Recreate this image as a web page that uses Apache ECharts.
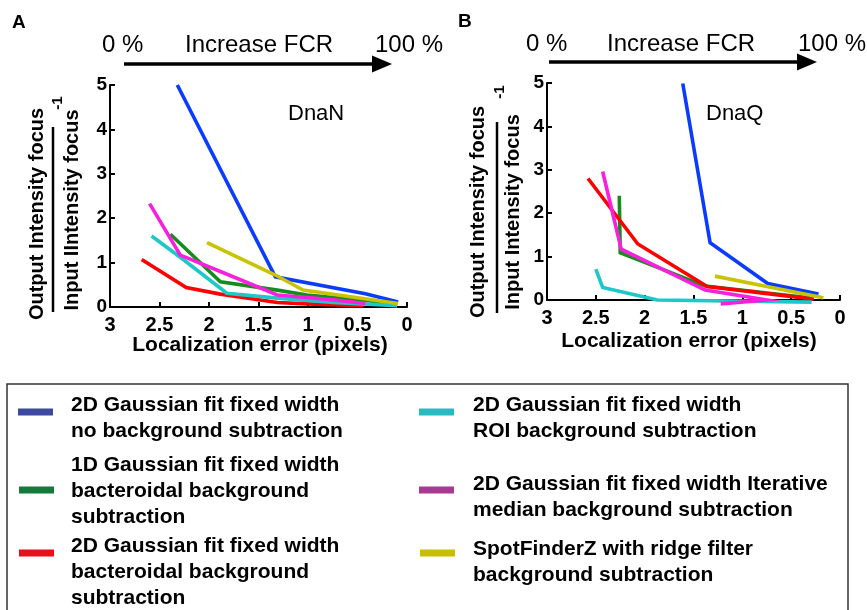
<!DOCTYPE html>
<html><head><meta charset="utf-8">
<script src="https://cdn.jsdelivr.net/npm/echarts@6/dist/echarts.min.js"></script>
<style>html,body{margin:0;padding:0;background:#fff}#c{width:867px;height:610px}</style>
</head><body><div id="c"></div>
<script>
// ---- data (x = localization error in pixels, y = output/input intensity - 1) ----
const xTicks = [3, 2.5, 2, 1.5, 1, 0.5, 0];
const yTicks = [0, 1, 2, 3, 4, 5];
const methodNames = [
  '2D Gaussian fit fixed width no background subtraction',
  '1D Gaussian fit fixed width bacteroidal background subtraction',
  '2D Gaussian fit fixed width bacteroidal background subtraction',
  '2D Gaussian fit fixed width ROI background subtraction',
  '2D Gaussian fit fixed width Iterative median background subtraction',
  'SpotFinderZ with ridge filter background subtraction'
];
// Panel A: DnaN
const dnaN_2dNoBg   = [[2.32,5.0],[1.33,0.68],[0.42,0.30],[0.09,0.11]];
const dnaN_1dBact   = [[2.39,1.64],[1.885,0.57],[1.31,0.38],[1.01,0.27],[0.10,0.08]];
const dnaN_2dBact   = [[2.68,1.07],[2.23,0.44],[1.885,0.29],[1.31,0.10],[1.01,0.07],[0.44,0.03]];
const dnaN_2dRoi    = [[2.58,1.60],[2.29,1.12],[1.82,0.31],[1.31,0.20],[0.74,0.10],[0.10,0.03]];
const dnaN_2dIter   = [[2.60,2.33],[2.29,1.17],[1.885,0.80],[1.31,0.27],[0.74,0.16],[0.42,0.08]];
const dnaN_spotFind = [[2.02,1.45],[1.33,0.72],[1.05,0.38],[0.09,0.08]];
// Panel B: DnaQ
const dnaQ_2dNoBg   = [[1.61,4.99],[1.33,1.32],[0.74,0.38],[0.22,0.14]];
const dnaQ_1dBact   = [[2.26,2.40],[2.25,1.09],[1.38,0.32],[0.27,0.04]];
const dnaQ_2dBact   = [[2.58,2.80],[2.07,1.29],[1.36,0.31],[0.27,0.02]];
const dnaQ_2dRoi    = [[2.50,0.71],[2.43,0.29],[1.87,0.0],[0.29,-0.05]];
const dnaQ_2dIter   = [[2.43,2.96],[2.24,1.17],[1.38,0.23],[0.75,0.0],[1.22,-0.09]];
const dnaQ_spotFind = [[1.28,0.55],[0.75,0.31],[0.17,0.05]];

const lineColors   = ['#0a3cff','#158c1c','#ff0000','#1fc8c8','#f820dc','#c8c400'];
const swatchColors = ['#3b4a9e','#137a3a','#e8101a','#2bb9c1','#a93a91','#c8be00'];

const panelA = [dnaN_2dNoBg, dnaN_1dBact, dnaN_2dBact, dnaN_2dRoi, dnaN_2dIter, dnaN_spotFind];
const panelB = [dnaQ_2dNoBg, dnaQ_1dBact, dnaQ_2dBact, dnaQ_2dRoi, dnaQ_2dIter, dnaQ_spotFind];

const FONT = 'Liberation Sans, Arial, sans-serif';
const chart = echarts.init(document.getElementById('c'), null, {renderer: 'canvas'});

function xAx(gi) {
  return {
    type: 'value', gridIndex: gi, min: 0, max: 3, interval: 0.5, inverse: true,
    axisLine: {show: true, onZero: false, lineStyle: {color: '#000', width: 2}},
    axisTick: {show: true, inside: true, length: 5, lineStyle: {color: '#000', width: 2}},
    axisLabel: {show: true, margin: 8, color: '#000', fontFamily: FONT, fontWeight: 'bold', fontSize: 20,
      formatter: v => String(v)},
    splitLine: {show: false}
  };
}
function yAx(gi) {
  return {
    type: 'value', gridIndex: gi, min: 0, max: 5, interval: 1,
    axisLine: {show: true, onZero: false, lineStyle: {color: '#000', width: 2}},
    axisTick: {show: true, inside: true, length: 5, lineStyle: {color: '#000', width: 2}},
    axisLabel: {show: true, margin: 3, color: '#000', fontFamily: FONT, fontWeight: 'bold', fontSize: 19},
    splitLine: {show: false}
  };
}

const series = [];
[panelA, panelB].forEach((panel, gi) => {
  panel.forEach((d, i) => {
    series.push({
      type: 'line', name: methodNames[i], xAxisIndex: gi, yAxisIndex: gi,
      data: d, showSymbol: false, symbol: 'none', clip: false, silent: true,
      lineStyle: {color: lineColors[i], width: 3.6, cap: 'butt', join: 'miter'},
      animation: false
    });
  });
});

const g = [];
function txt(x, y, s, size, weight, align, rot) {
  g.push({type: 'text', x: x, y: y, rotation: rot || 0, silent: true,
    style: {text: s, font: (weight || 'normal') + ' ' + size + 'px ' + FONT, fill: '#000',
      align: align || 'left', verticalAlign: 'middle'}});
}
function arrow(x1, x2, y) {
  g.push({type: 'line', silent: true, shape: {x1: x1, y1: y, x2: x2 - 12, y2: y}, style: {stroke: '#000', lineWidth: 3.5}});
  g.push({type: 'polygon', silent: true, shape: {points: [[x2 - 20, y - 8.5], [x2, y], [x2 - 20, y + 8.5]]}, style: {fill: '#000'}});
}
// panel letters + FCR headers
txt(12, 23, 'A', 19, 'bold');
txt(458, 22, 'B', 19, 'bold');
txt(102, 45, '0 %', 24); txt(185, 45, 'Increase FCR', 24); txt(375, 45, '100 %', 24);
txt(526, 44, '0 %', 24); txt(607, 44, 'Increase FCR', 24); txt(798, 44, '100 %', 24);
arrow(124, 392, 64);
arrow(549, 817, 62);
// panel titles
txt(288, 114, 'DnaN', 22);
txt(706, 114, 'DnaQ', 22);
// x axis titles
txt(260, 345, 'Localization error (pixels)', 21, 'bold', 'center');
txt(689, 341, 'Localization error (pixels)', 21, 'bold', 'center');
// y axis titles (fraction)
const R = Math.PI / 2;
txt(37, 214, 'Output Intensity focus', 20, 'bold', 'center', R);
txt(72, 210, 'Input IIntensity focus', 20, 'bold', 'center', R);
g.push({type: 'line', silent: true, shape: {x1: 53, y1: 127, x2: 53, y2: 312}, style: {stroke: '#000', lineWidth: 2.5}});
txt(58, 103, '-1', 15, 'bold', 'center', R);
txt(478, 212, 'Output Intensity focus', 20, 'bold', 'center', R);
txt(513, 212, 'Input Intensity focus', 20, 'bold', 'center', R);
g.push({type: 'line', silent: true, shape: {x1: 497, y1: 122, x2: 497, y2: 313}, style: {stroke: '#000', lineWidth: 2.5}});
txt(500, 92, '-1', 15, 'bold', 'center', R);

// legend box
g.push({type: 'rect', silent: true, shape: {x: 7, y: 384, width: 841, height: 240}, style: {fill: 'none', stroke: '#333', lineWidth: 1.5}});
const legendLines = [
  ['2D Gaussian fit fixed width', 'no background subtraction'],
  ['1D Gaussian fit fixed width', 'bacteroidal background', 'subtraction'],
  ['2D Gaussian fit fixed width', 'bacteroidal background', 'subtraction'],
  ['2D Gaussian fit fixed width', 'ROI background subtraction'],
  ['2D Gaussian fit fixed width Iterative', 'median background subtraction'],
  ['SpotFinderZ with ridge filter', 'background subtraction']
];
const legendSwatch = [[18, 412], [19, 490], [19, 553], [419, 412], [419, 490], [420, 553]];
const legendText = [[71, 405], [71, 465], [71, 546], [473, 405], [473, 484], [473, 549]];
legendLines.forEach((lines, i) => {
  g.push({type: 'rect', silent: true, shape: {x: legendSwatch[i][0], y: legendSwatch[i][1] - 3.5, width: 35, height: 7},
    style: {fill: swatchColors[i]}});
  lines.forEach((s, k) => txt(legendText[i][0], legendText[i][1] + k * 26, s, 21, 'bold'));
});

chart.setOption({
  animation: false,
  backgroundColor: '#fff',
  grid: [
    {left: 110, top: 85, width: 297, height: 222},
    {left: 547, top: 83, width: 293, height: 217}
  ],
  xAxis: [xAx(0), xAx(1)],
  yAxis: [yAx(0), yAx(1)],
  series: series,
  graphic: g
});
</script></body></html>
